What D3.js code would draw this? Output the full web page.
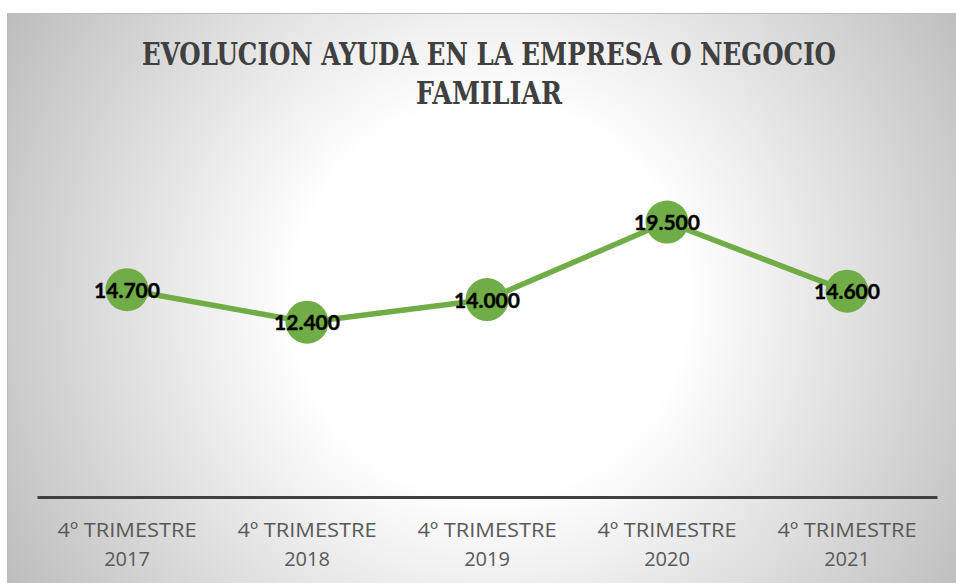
<!DOCTYPE html>
<html><head><meta charset="utf-8">
<script src="https://cdn.jsdelivr.net/npm/d3@7"></script>
<style>body{margin:0;background:#fff}svg{display:block}</style>
</head><body>
<script>
const categories = ["4º TRIMESTRE 2017","4º TRIMESTRE 2018","4º TRIMESTRE 2019","4º TRIMESTRE 2020","4º TRIMESTRE 2021"];
const values = [14.7, 12.4, 14.0, 19.5, 14.6];
const valueLabels = ["14.700","12.400","14.000","19.500","14.600"];
const titleLines = ["EVOLUCION AYUDA EN LA EMPRESA O NEGOCIO","FAMILIAR"];

const W = 956, H = 583;
const svg = d3.select("body").append("svg").attr("width", W).attr("height", H);
const defs = svg.append("defs");
const grad = defs.append("radialGradient").attr("id","bg")
  .attr("gradientUnits","userSpaceOnUse").attr("cx",490).attr("cy",300).attr("r",560);
grad.append("stop").attr("offset","0%").attr("stop-color","#ffffff");
grad.append("stop").attr("offset","35%").attr("stop-color","#ffffff");
grad.append("stop").attr("offset","100%").attr("stop-color","#bdbdbd");

svg.append("rect").attr("x",7.5).attr("y",13.5).attr("width",W).attr("height",H)
  .attr("fill","url(#bg)").attr("stroke","#bcbcbc").attr("stroke-width",1);

const t = svg.append("text").attr("text-anchor","middle")
  .attr("font-family","'DejaVu Serif Condensed','DejaVu Serif',serif").attr("font-weight","bold")
  .attr("font-size",32).attr("fill","#404040");
t.append("tspan").attr("x",489).attr("y",65).attr("textLength",694).attr("lengthAdjust","spacingAndGlyphs").text(titleLines[0]);
t.append("tspan").attr("x",489).attr("y",104).attr("textLength",146).attr("lengthAdjust","spacingAndGlyphs").text(titleLines[1]);

const x = d3.scaleBand().domain(categories).range([37, 937]);
const y = d3.scaleLinear().domain([0, 25]).range([497, 144.5]);

const line = d3.line().x((d,i)=>x(categories[i])+x.bandwidth()/2).y(d=>y(d));
svg.append("path").datum(values).attr("d",line).attr("fill","none")
  .attr("stroke","#70AD47").attr("stroke-width",5.5).attr("stroke-linejoin","round");

svg.selectAll("circle.m").data(values).join("circle").attr("class","m")
  .attr("cx",(d,i)=>x(categories[i])+x.bandwidth()/2).attr("cy",d=>y(d)).attr("r",21.5)
  .attr("fill","#70AD47");

svg.selectAll("text.v").data(values).join("text").attr("class","v")
  .attr("x",(d,i)=>x(categories[i])+x.bandwidth()/2).attr("y",d=>y(d)+8)
  .attr("text-anchor","middle").attr("font-family","Lato, 'Open Sans', sans-serif")
  .attr("font-weight","bold").attr("font-size",21).attr("fill","#000")
  .attr("stroke","#000").attr("stroke-width",0.4)
  .text((d,i)=>valueLabels[i]);

const xAxis = svg.append("g").attr("transform","translate(0,497)")
  .call(d3.axisBottom(x).tickSize(0).tickFormat(""));
xAxis.select(".domain").attr("stroke","#404040").attr("stroke-width",3);

const lab = svg.append("g").selectAll("text").data(categories).join("text")
  .attr("text-anchor","middle").attr("font-family","'Open Sans', Lato, sans-serif")
  .attr("font-size",20).attr("fill","#595959");
lab.each(function(d){
  const parts = d.split(" ");
  const cx = x(d)+x.bandwidth()/2;
  d3.select(this).append("tspan").attr("x",cx).attr("y",537).attr("textLength",139).attr("lengthAdjust","spacingAndGlyphs").text(parts[0]+" "+parts[1]);
  d3.select(this).append("tspan").attr("x",cx).attr("y",566).text(parts[2]);
});
</script>
</body></html>
